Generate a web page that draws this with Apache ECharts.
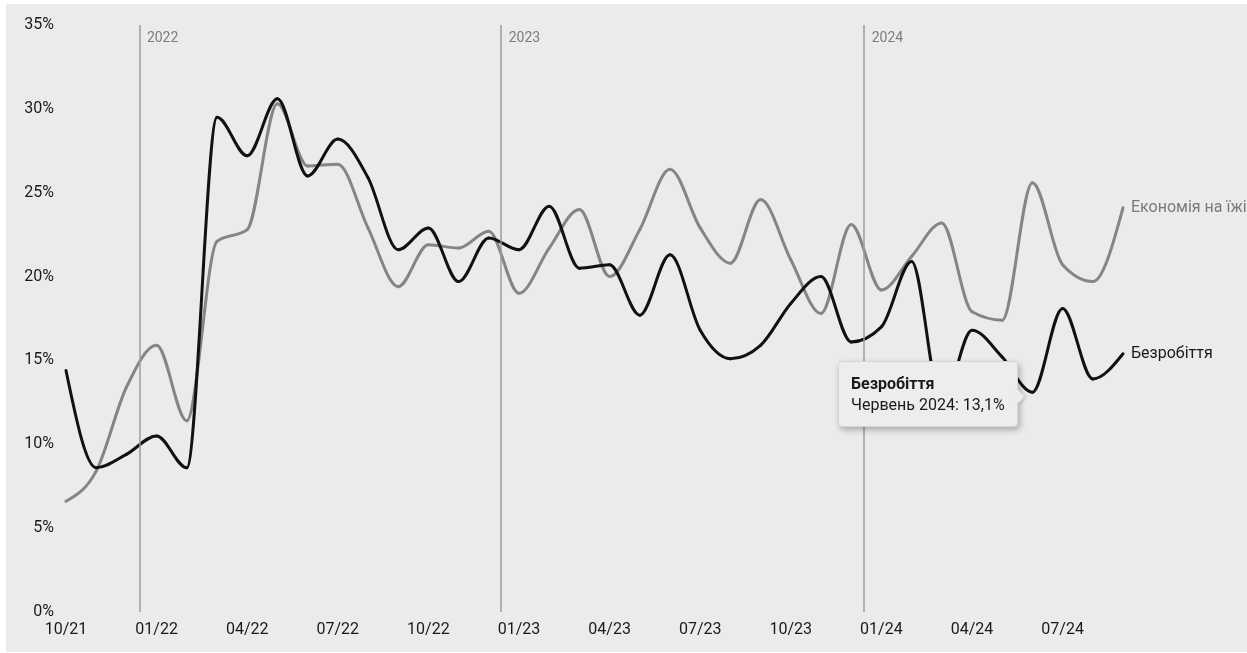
<!DOCTYPE html>
<html>
<head>
<meta charset="utf-8">
<script src="https://cdn.jsdelivr.net/npm/echarts@6/dist/echarts.min.js"></script>
<style>
html, body { margin: 0; padding: 0; background: #ffffff; }
#chart { position: absolute; left: 6px; top: 4px; width: 1241px; height: 648px; background: #ebebeb; }
</style>
</head>
<body>
<div id="chart"></div>
<script>
// ---- data (monthly, 10/2021 .. 09/2024) ----
const tickLabels = ['10/21','01/22','04/22','07/22','10/22','01/23','04/23','07/23','10/23','01/24','04/24','07/24'];
const unemployment = [14.4, 8.6, 9.4, 10.5, 8.6, 29.5, 27.2, 30.6, 26.0, 28.2, 25.9, 21.6,
                      22.9, 19.7, 22.3, 21.6, 24.2, 20.5, 20.7, 17.7, 21.3, 16.8, 15.1, 15.9,
                      18.4, 20.0, 16.1, 17.0, 20.9, 12.4, 16.8, 15.2, 13.1, 18.1, 13.9, 15.4];
const foodSaving   = [6.6, 8.4, 13.4, 15.9, 11.4, 22.1, 22.8, 30.3, 26.6, 26.7, 22.9, 19.4,
                      21.9, 21.7, 22.7, 19.0, 21.7, 24.0, 20.0, 22.8, 26.4, 22.9, 20.8, 24.6,
                      21.0, 17.8, 23.1, 19.2, 21.2, 23.2, 17.9, 17.4, 25.6, 20.7, 19.7, 24.1];
const seriesNames = ['Економія на їжі', 'Безробіття'];
const yearNames = ['2022', '2023', '2024'];
const yearLinePos = [2.43, 14.41, 26.43];
const monthNames = ['Січень','Лютий','Березень','Квітень','Травень','Червень','Липень','Серпень','Вересень','Жовтень','Листопад','Грудень'];
const startMonth = 9;   // October (0-based)
const startYear = 2021;
const highlightIndex = 32;

const FONT = 'Roboto, "Noto Sans", sans-serif';
const FONT_CSS = "Roboto, 'Noto Sans', sans-serif";

function monthLabel(i) {
  const m = startMonth + i;
  return monthNames[m % 12] + ' ' + (startYear + Math.floor(m / 12));
}

// monotone cubic (Fritsch–Carlson, as d3.curveMonotoneX) tangents in pixel space
function sgn(x) { return x < 0 ? -1 : 1; }
function monotoneTangents(pts) {
  const n = pts.length, t = new Array(n).fill(0);
  for (let i = 1; i < n - 1; i++) {
    const h0 = pts[i][0] - pts[i - 1][0], h1 = pts[i + 1][0] - pts[i][0];
    const s0 = (pts[i][1] - pts[i - 1][1]) / h0, s1 = (pts[i + 1][1] - pts[i][1]) / h1;
    const p = (s0 * h1 + s1 * h0) / (h0 + h1);
    t[i] = (sgn(s0) + sgn(s1)) * Math.min(Math.abs(s0), Math.abs(s1), 0.5 * Math.abs(p)) || 0;
  }
  if (n > 1) {
    const h = pts[1][0] - pts[0][0];
    t[0] = (3 * (pts[1][1] - pts[0][1]) / h - t[1]) / 2;
    const hl = pts[n - 1][0] - pts[n - 2][0];
    t[n - 1] = (3 * (pts[n - 1][1] - pts[n - 2][1]) / hl - t[n - 2]) / 2;
  }
  return t;
}

function makeRenderer(values, color, labelText, labelColor) {
  return function (params, api) {
    const i = params.dataIndex;
    const pts = values.map((v, k) => api.coord([k, v]));
    const t = monotoneTangents(pts);
    const children = [];
    if (i < values.length - 1) {
      const p0 = pts[i], p1 = pts[i + 1];
      const dx = (p1[0] - p0[0]) / 3;
      children.push({
        type: 'bezierCurve',
        shape: {
          x1: p0[0], y1: p0[1], x2: p1[0], y2: p1[1],
          cpx1: p0[0] + dx, cpy1: p0[1] + dx * t[i],
          cpx2: p1[0] - dx, cpy2: p1[1] - dx * t[i + 1]
        },
        style: { stroke: color, lineWidth: 3, fill: 'none', lineCap: 'round', lineJoin: 'round' }
      });
    } else {
      const p = pts[i];
      children.push({
        type: 'text',
        x: p[0] + 8, y: p[1],
        style: { text: labelText, fill: labelColor, font: '16px ' + FONT, textVerticalAlign: 'middle', verticalAlign: 'middle', textAlign: 'left', align: 'left' }
      });
    }
    return { type: 'group', children: children };
  };
}

const chart = echarts.init(document.getElementById('chart'), null, { renderer: 'canvas' });

const option = {
  animation: false,
  backgroundColor: '#ebebeb',
  textStyle: { fontFamily: FONT },
  grid: { left: 60, right: 124, top: 21, bottom: 40, containLabel: false, outerBoundsMode: 'none' },
  tooltip: {
    trigger: 'item',
    alwaysShowContent: true,
    transitionDuration: 0,
    showDelay: 0,
    backgroundColor: '#ededed',
    borderColor: '#d6d6d6',
    borderWidth: 1,
    borderRadius: 4,
    padding: [11, 12],
    textStyle: { fontFamily: FONT, fontSize: 16, color: '#1a1a1a', lineHeight: 21 },
    extraCssText: 'box-shadow: 2px 3px 6px rgba(0,0,0,0.28); line-height:21px;',
    position: function (point, params, dom, rect, size) {
      const p = chart.convertToPixel({ gridIndex: 0 }, [params.value[0], params.value[1]]);
      const w = size.contentSize[0], h = size.contentSize[1];
      return [p[0] - w - 14, p[1] - h / 2 + 2];
    },
    formatter: function (p) {
      const i = p.value[0];
      const v = p.value[1].toFixed(1).replace('.', ',');
      const arrow = '<div style="position:absolute;right:-6px;top:50%;width:10px;height:10px;margin-top:-3px;' +
                    'background:#ededed;border-top:1px solid #d6d6d6;border-right:1px solid #d6d6d6;' +
                    'transform:rotate(45deg);box-shadow:2px -1px 3px rgba(0,0,0,0.12);"></div>';
      return arrow +
             '<div style="font-weight:bold;font-family:' + FONT_CSS + ';font-size:16px">' + p.seriesName + '</div>' +
             '<div style="font-family:' + FONT_CSS + ';font-size:16px">' + monthLabel(i) + ': ' + v + '%</div>';
    }
  },
  xAxis: {
    type: 'value',
    min: 0,
    max: unemployment.length - 1,
    interval: 3,
    axisLine: { show: false },
    axisTick: { show: false },
    splitLine: { show: false },
    axisLabel: {
      color: '#1a1a1a', fontSize: 16, fontFamily: FONT, margin: 10,
      showMaxLabel: false,
      formatter: function (v) { return v % 3 === 0 ? (tickLabels[v / 3] || '') : ''; }
    }
  },
  yAxis: {
    type: 'value',
    min: 0,
    max: 35,
    interval: 5,
    axisLine: { show: false },
    axisTick: { show: false },
    splitLine: { show: false },
    axisLabel: { color: '#1a1a1a', fontSize: 16, fontFamily: FONT, margin: 12, formatter: '{value}%' }
  },
  series: [
    {
      type: 'scatter',
      name: 'years',
      silent: true,
      tooltip: { show: false },
      symbolSize: 1,
      itemStyle: { color: 'rgba(0,0,0,0)' },
      z: 1,
      data: yearLinePos.map((x, i) => ({ value: [x, 35], name: yearNames[i] })),
      label: {
        show: true, position: 'right', distance: 7, offset: [0, 13],
        formatter: '{b}', color: '#616161', fontSize: 14, fontFamily: FONT
      },
      markLine: {
        silent: true,
        symbol: 'none',
        label: { show: false },
        lineStyle: { color: '#9c9c9c', width: 1.5, type: 'solid' },
        data: yearLinePos.map(x => ({ xAxis: x }))
      }
    },
    {
      type: 'custom',
      name: seriesNames[0],
      data: foodSaving.map((v, i) => [i, v]),
      encode: { x: 0, y: 1 },
      z: 2,
      silent: true,
      tooltip: { show: false },
      renderItem: makeRenderer(foodSaving, '#858585', seriesNames[0], '#7a7a7a')
    },
    {
      type: 'custom',
      name: seriesNames[1],
      data: unemployment.map((v, i) => [i, v]),
      encode: { x: 0, y: 1 },
      z: 3,
      emphasis: { disabled: true },
      renderItem: makeRenderer(unemployment, '#111111', seriesNames[1], '#1a1a1a')
    }
  ]
};

chart.setOption(option);
chart.dispatchAction({ type: 'showTip', seriesIndex: 2, dataIndex: highlightIndex });
</script>
</body>
</html>
